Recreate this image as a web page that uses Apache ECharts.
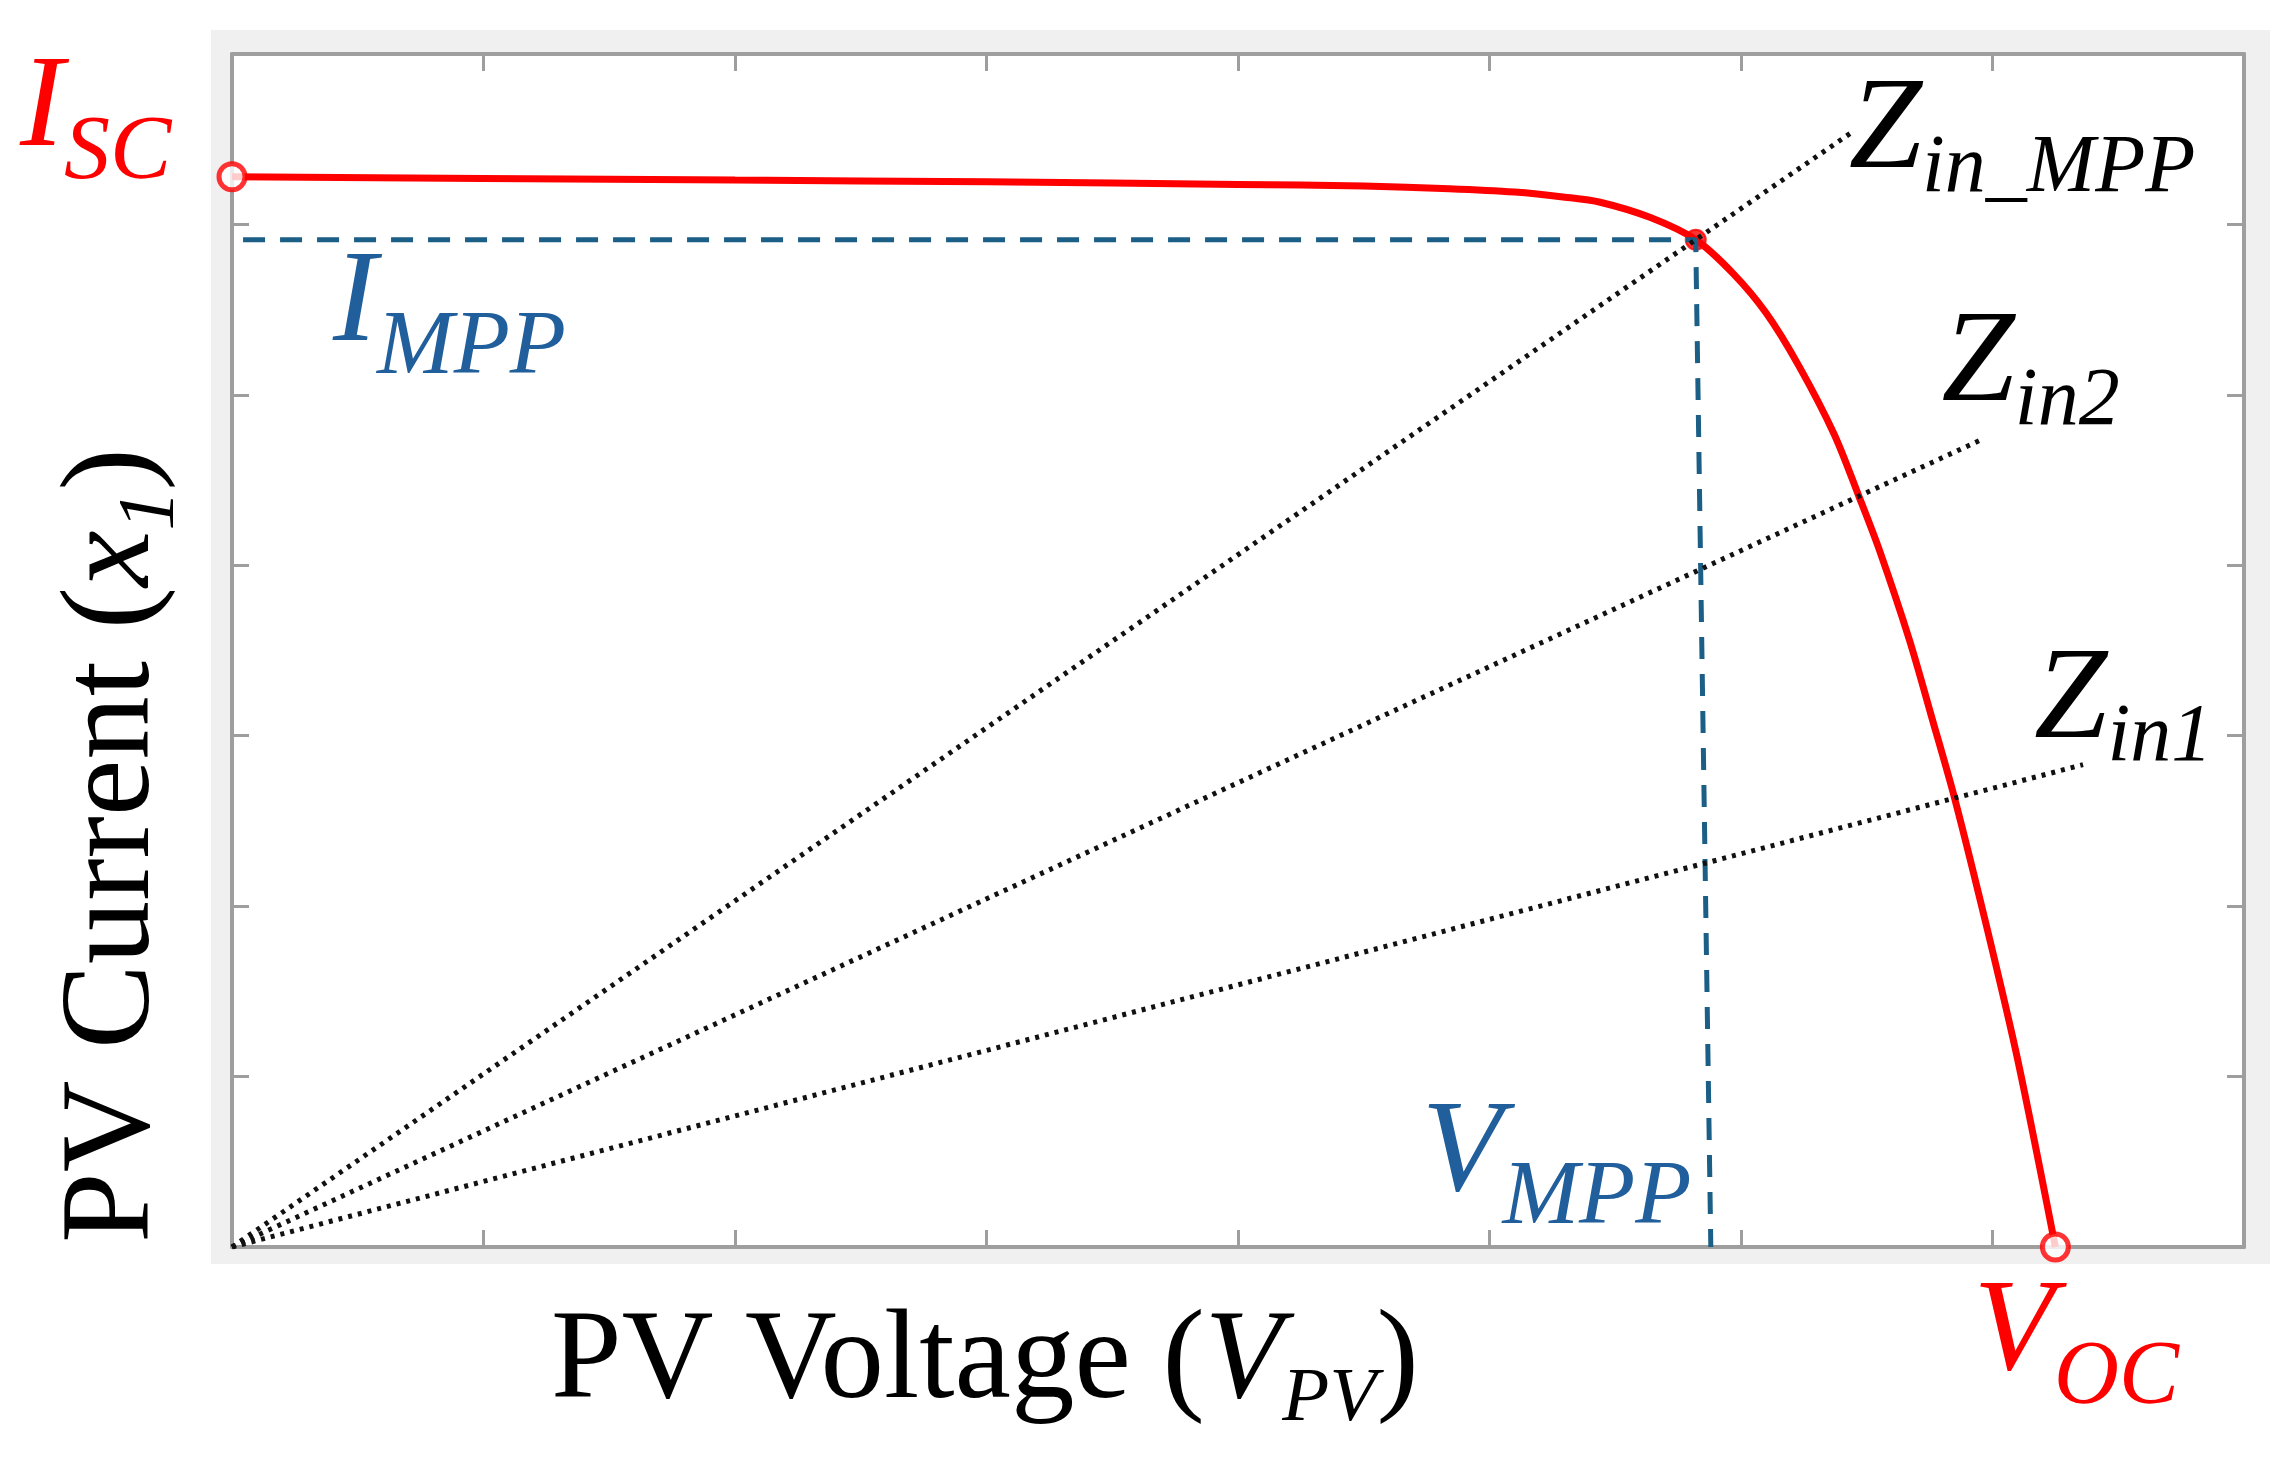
<!DOCTYPE html>
<html><head><meta charset="utf-8">
<script src="https://cdn.jsdelivr.net/npm/echarts@6/dist/echarts.min.js"></script>
<style>html,body{margin:0;padding:0;background:#fff}#c{width:2294px;height:1458px}</style>
</head><body><div id="c"></div>
<script>
// ---- data (axis units: x 0..8, y 0..7) ----
const voltage = [0, 1, 2, 3, 4, 4.5, 4.84, 5.1, 5.3, 5.44, 5.64, 5.82, 5.97, 6.10, 6.23, 6.37, 6.47, 6.55, 6.67, 6.76, 6.85, 6.98, 7.1, 7.25];
const current = [6.28, 6.27, 6.26, 6.25, 6.235, 6.225, 6.21, 6.19, 6.16, 6.13, 6.04, 5.91, 5.71, 5.48, 5.17, 4.77, 4.40, 4.09, 3.56, 3.10, 2.63, 1.86, 1.10, 0];
const iscPoint = [0, 6.28];
const vocPoint = [7.25, 0];
const mppPoint = [5.82, 5.91];
const impStart = [0.044, 5.91];
const vmpFoot = [5.88, 0];
const origin = [0, 0];
const zinMppEnd = [6.44, 6.54];
const zin2End = [6.96, 4.74];
const zin1End = [7.36, 2.83];
const xRange = [0, 8];
const yRange = [0, 7];

const SERIF = '"Liberation Serif", "Times New Roman", serif';
const RED = '#ff0000', BLUE_TXT = '#215f9c', BLUE_LINE = '#1b5e86', GRAY = '#9e9e9e';

const chart = echarts.init(document.getElementById('c'), null, {renderer: 'canvas'});

function axisX(pos) {
  return {type: 'value', position: pos, min: xRange[0], max: xRange[1], interval: 1,
    axisLine: {show: true, onZero: false, lineStyle: {color: GRAY, width: 4}},
    axisTick: {show: true, inside: true, length: 17, lineStyle: {color: GRAY, width: 3}},
    axisLabel: {show: false}, splitLine: {show: false}};
}
function axisY(pos) {
  return {type: 'value', position: pos, min: yRange[0], max: yRange[1], interval: 1,
    axisLine: {show: true, onZero: false, lineStyle: {color: GRAY, width: 4}},
    axisTick: {show: true, inside: true, length: 17, lineStyle: {color: GRAY, width: 3}},
    axisLabel: {show: false}, splitLine: {show: false}};
}
const dotted = (end) => ({type: 'line', data: [origin, end], showSymbol: false, symbol: 'none', z: 4,
  lineStyle: {color: '#111', width: 5, type: [4, 6], cap: 'butt'}, silent: true});

chart.setOption({
  animation: false,
  grid: {left: 232, right: 50, top: 54, bottom: 211, show: true, backgroundColor: '#fff', borderWidth: 0},
  xAxis: [axisX('bottom'), axisX('top')],
  yAxis: [axisY('left'), axisY('right')],
  series: [
    {type: 'line', data: voltage.map((v, i) => [v, current[i]]), smooth: 0.3,
      showSymbol: false, symbol: 'none', z: 2, lineStyle: {color: RED, width: 7}},
    {type: 'scatter', data: [mppPoint], symbol: 'circle', symbolSize: 20, z: 3,
      itemStyle: {color: RED, borderColor: RED, borderWidth: 2}},
    {type: 'line', data: [impStart, mppPoint, vmpFoot], showSymbol: false, symbol: 'none', z: 4,
      lineStyle: {color: BLUE_LINE, width: 5, type: [22, 15]}},
    dotted(zinMppEnd), dotted(zin2End), dotted(zin1End),
    {type: 'scatter', data: [iscPoint, vocPoint], symbol: 'circle', symbolSize: 26, z: 6,
      itemStyle: {color: '#fff', borderColor: RED, borderWidth: 5}}
  ]
});

// ---- annotation text (rich text with subscripts) ----
function richStyles(F, color, f, d, mainItalic) {
  return {
    m: {fontSize: F, fontFamily: SERIF, fontStyle: mainItalic ? 'italic' : 'normal', lineHeight: F + d, verticalAlign: 'top', fill: color},
    i: {fontSize: F, fontFamily: SERIF, fontStyle: 'italic', lineHeight: F + d, verticalAlign: 'top', fill: color},
    s: {fontSize: f, fontFamily: SERIF, fontStyle: 'italic', lineHeight: f, verticalAlign: 'bottom', fill: color}
  };
}
const F = 132;
const TOP = 0.84 * F; // baseline -> block top
function label(anchor, dx, dy, text, color, f, d) {
  const p = chart.convertToPixel({gridIndex: 0}, anchor);
  return {type: 'text', x: p[0] + dx, y: p[1] + dy - TOP, z: 100, silent: true,
    style: {text: text, align: 'left', verticalAlign: 'top', rich: richStyles(F, color, f, d, true)}};
}
const FT = 127, TOPT = 0.84 * FT;
const graphics = [
  {type: 'rect', shape: {x: 211, y: 30, width: 2059, height: 1234}, style: {fill: '#f0f0f0'}, z: -100, silent: true},
  label(iscPoint, -212, -22, '{m|I}{s|SC}', RED, 92, 24),
  label(impStart, 90, 110, '{m|I}{s|MPP}', BLUE_TXT, 92, 24),
  label(vmpFoot, -289, -47, '{m|V}{s|MPP}', BLUE_TXT, 92, 24),
  label(vocPoint, -82, 132, '{m|V}{s|OC}', RED, 90, 24),
  label(zinMppEnd, -3, 45, '{m|Z}{s|in_MPP}', '#000', 82, 12),
  label(zin2End, -41, -29, '{m|Z}{s|in2}', '#000', 82, 12),
  label(zin1End, -49, -18, '{m|Z}{s|in1}', '#000', 82, 12),
  // x axis title
  {type: 'text', x: 551, y: 1407 - TOPT, z: 100, silent: true,
    style: {text: '{m|PV Voltage (}{i|V}{s|PV}{m|)}', align: 'left', verticalAlign: 'top', rich: richStyles(FT, '#000', 77, 11, false)}},
  // y axis title (rotated)
  {type: 'text', x: 158 - TOPT, y: 1243, rotation: Math.PI / 2, z: 100, silent: true,
    style: {text: '{m|PV Current (}{i|x}{s|1}{m|)}', align: 'left', verticalAlign: 'top', rich: richStyles(FT, '#000', 80, 14, false)}}
];
chart.setOption({graphic: graphics});
</script></body></html>
